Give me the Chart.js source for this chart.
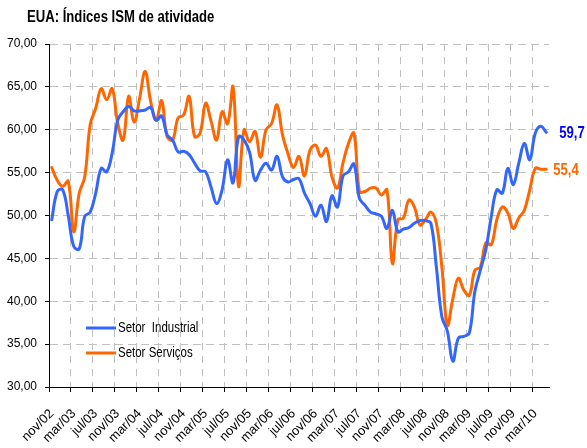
<!DOCTYPE html>
<html>
<head>
<meta charset="utf-8">
<script src="https://cdn.jsdelivr.net/npm/chart.js@4/dist/chart.umd.min.js"></script>
<style>
  body { margin: 0; background: #ffffff; }
  #wrap { width: 587px; height: 448px; }
</style>
</head>
<body>
<div id="wrap"><canvas id="ismChart" width="587" height="448"></canvas></div>
<script>
// Meses (nov/02 a mai/10)
const meses = [
  'nov/02', 'dez/02',
  'jan/03', 'fev/03', 'mar/03', 'abr/03', 'mai/03', 'jun/03', 'jul/03', 'ago/03', 'set/03', 'out/03', 'nov/03', 'dez/03',
  'jan/04', 'fev/04', 'mar/04', 'abr/04', 'mai/04', 'jun/04', 'jul/04', 'ago/04', 'set/04', 'out/04', 'nov/04', 'dez/04',
  'jan/05', 'fev/05', 'mar/05', 'abr/05', 'mai/05', 'jun/05', 'jul/05', 'ago/05', 'set/05', 'out/05', 'nov/05', 'dez/05',
  'jan/06', 'fev/06', 'mar/06', 'abr/06', 'mai/06', 'jun/06', 'jul/06', 'ago/06', 'set/06', 'out/06', 'nov/06', 'dez/06',
  'jan/07', 'fev/07', 'mar/07', 'abr/07', 'mai/07', 'jun/07', 'jul/07', 'ago/07', 'set/07', 'out/07', 'nov/07', 'dez/07',
  'jan/08', 'fev/08', 'mar/08', 'abr/08', 'mai/08', 'jun/08', 'jul/08', 'ago/08', 'set/08', 'out/08', 'nov/08', 'dez/08',
  'jan/09', 'fev/09', 'mar/09', 'abr/09', 'mai/09', 'jun/09', 'jul/09', 'ago/09', 'set/09', 'out/09', 'nov/09', 'dez/09',
  'jan/10', 'fev/10', 'mar/10', 'abr/10', 'mai/10'
];

// ISM industrial
const setorIndustrial = [
  49.5, 52.8,
  53.0, 50.0, 46.4, 46.1, 49.9, 50.4, 52.6, 55.5, 55.1, 57.3, 61.1, 62.1,
  62.7, 62.2, 62.2, 62.3, 62.6, 61.1, 61.6, 59.4, 58.8, 57.4, 57.5, 57.1,
  56.1, 55.2, 55.1, 53.3, 51.4, 53.0, 56.5, 53.8, 59.2, 58.8, 57.4, 54.1,
  55.3, 56.1, 55.3, 56.9, 54.5, 53.9, 54.2, 54.3, 52.6, 51.4, 49.9, 51.2,
  49.3, 52.3, 51.0, 54.6, 55.1, 56.0, 52.0, 51.2, 50.4, 50.2, 49.9, 48.5,
  50.6, 48.1, 48.4, 48.6, 49.1, 49.4, 49.4, 49.1, 44.0, 38.2, 36.5, 33.0,
  35.7, 35.9, 36.3, 41.1, 43.6, 46.0, 49.9, 53.0, 52.6, 55.5, 53.6, 56.1,
  58.4, 56.5, 59.6, 60.4, 59.7
];

// ISM serviços
const setorServicos = [
  55.6, 54.1,
  53.4, 54.0, 48.1, 52.6, 54.5, 60.6, 62.5, 64.8, 63.5, 64.8, 60.8, 58.8,
  63.9, 60.9, 63.7, 66.8, 63.3, 61.1, 63.4, 59.2, 58.8, 61.4, 61.7, 63.9,
  59.2, 59.6, 63.1, 61.0, 58.8, 62.1, 60.7, 65.0, 53.4, 60.0, 58.6, 59.8,
  56.8, 60.0, 60.7, 62.9, 59.4, 57.2, 55.6, 56.9, 54.6, 57.6, 58.2, 56.9,
  57.8, 54.5, 53.2, 56.1, 58.4, 59.6, 52.8, 52.8, 53.2, 53.2, 52.4, 53.0,
  44.4, 49.5, 49.7, 51.8, 51.0, 48.9, 49.5, 50.4, 49.1, 44.0, 37.2, 40.3,
  42.7, 41.3, 40.7, 43.6, 44.0, 46.8, 46.6, 49.5, 51.0, 50.3, 48.5, 49.7,
  50.6, 53.0, 55.5, 55.4, 55.4
];

const titulo = 'EUA: Índices ISM de atividade';
const passoRotulo = 4; // um rótulo a cada 4 meses
const corIndustrial = '#3366ff';
const corServicos = '#ff6600';
const fonteBase = "'Liberation Sans', Arial, sans-serif";
const estreito = 0.82; // imita Arial Narrow / Calibri

const virgula = (v, casas) => v.toFixed(casas).replace('.', ',');

// texto "condensado" no canvas
function textoEstreito(ctx, txt, x, y, fonte, cor) {
  ctx.save();
  ctx.translate(x, y);
  ctx.scale(estreito, 1);
  ctx.font = fonte;
  ctx.fillStyle = cor;
  ctx.textBaseline = 'middle';
  ctx.textAlign = 'left';
  ctx.fillText(txt, 0, 0);
  ctx.restore();
}

// título + legenda dentro da área do gráfico
const decoracao = {
  id: 'decoracao',
  afterDraw(chart) {
    const ctx = chart.ctx;
    textoEstreito(ctx, titulo, 27, 18, 'bold 16px ' + fonteBase, '#000000');

    const itens = [
      { y: 328, ds: chart.data.datasets[0] },
      { y: 353, ds: chart.data.datasets[1] }
    ];
    itens.forEach(it => {
      ctx.save();
      ctx.strokeStyle = it.ds.borderColor;
      ctx.lineWidth = 3;
      ctx.beginPath();
      ctx.moveTo(86, it.y);
      ctx.lineTo(116, it.y);
      ctx.stroke();
      ctx.restore();
      textoEstreito(ctx, it.ds.label, 118, it.y, '14px ' + fonteBase, '#000000');
    });
  }
};

// último valor de cada série à direita da linha
const rotuloFinal = {
  id: 'rotuloFinal',
  afterDatasetsDraw(chart) {
    const ajustes = [{ dx: 13, cor: '#0000ff' }, { dx: 7, cor: '#ff6600' }];
    chart.data.datasets.forEach((ds, i) => {
      const meta = chart.getDatasetMeta(i);
      const ult = meta.data[meta.data.length - 1];
      textoEstreito(chart.ctx, virgula(ds.data[ds.data.length - 1], 1),
        ult.x + ajustes[i].dx, ult.y + 1, 'bold 16px ' + fonteBase, ajustes[i].cor);
    });
  }
};

new Chart(document.getElementById('ismChart'), {
  type: 'line',
  data: {
    labels: meses,
    datasets: [
      {
        label: 'Setor  Industrial',
        data: setorIndustrial,
        borderColor: corIndustrial,
        borderWidth: 3,
        pointRadius: 0,
        tension: 0.4,
        borderJoinStyle: 'round',
        borderCapStyle: 'round'
      },
      {
        label: 'Setor Serviços',
        data: setorServicos,
        borderColor: corServicos,
        borderWidth: 3,
        pointRadius: 0,
        tension: 0.4,
        borderJoinStyle: 'round',
        borderCapStyle: 'round'
      }
    ]
  },
  options: {
    responsive: false,
    animation: false,
    layout: { padding: { left: 0, right: 38, top: 44, bottom: 0 } },
    plugins: {
      legend: { display: false },
      tooltip: { enabled: false },
      title: { display: false }
    },
    scales: {
      x: {
        offset: true,
        grid: {
          offset: true,
          color: ctx => (ctx.index % passoRotulo === 0 ? '#c0c0c0' : 'rgba(0,0,0,0)'),
          tickColor: ctx => (ctx.index % passoRotulo === 0 ? '#000000' : 'rgba(0,0,0,0)'),
          tickLength: 5,
          lineWidth: 1
        },
        border: { display: true, color: '#000000', width: 1, dash: [7, 6], z: 1 },
        ticks: {
          autoSkip: false,
          minRotation: 45,
          maxRotation: 45,
          padding: 14,
          color: '#000000',
          font: { family: fonteBase, size: 13 },
          callback: function (val, idx) {
            return idx % passoRotulo === 0 ? meses[idx] : '';
          }
        },
        afterFit: scale => { scale.height = 61; }
      },
      y: {
        min: 30,
        max: 70,
        grid: {
          color: '#c0c0c0',
          tickColor: '#000000',
          tickLength: 4,
          lineWidth: 1
        },
        border: { display: true, color: '#000000', width: 1, dash: [8, 5], z: 1 },
        ticks: {
          stepSize: 5,
          padding: 8,
          color: '#000000',
          font: { family: fonteBase, size: 12 },
          callback: v => virgula(v, 2)
        },
        afterFit: scale => { scale.width = 49; }
      }
    }
  },
  plugins: [decoracao, rotuloFinal]
});
</script>
</body>
</html>
